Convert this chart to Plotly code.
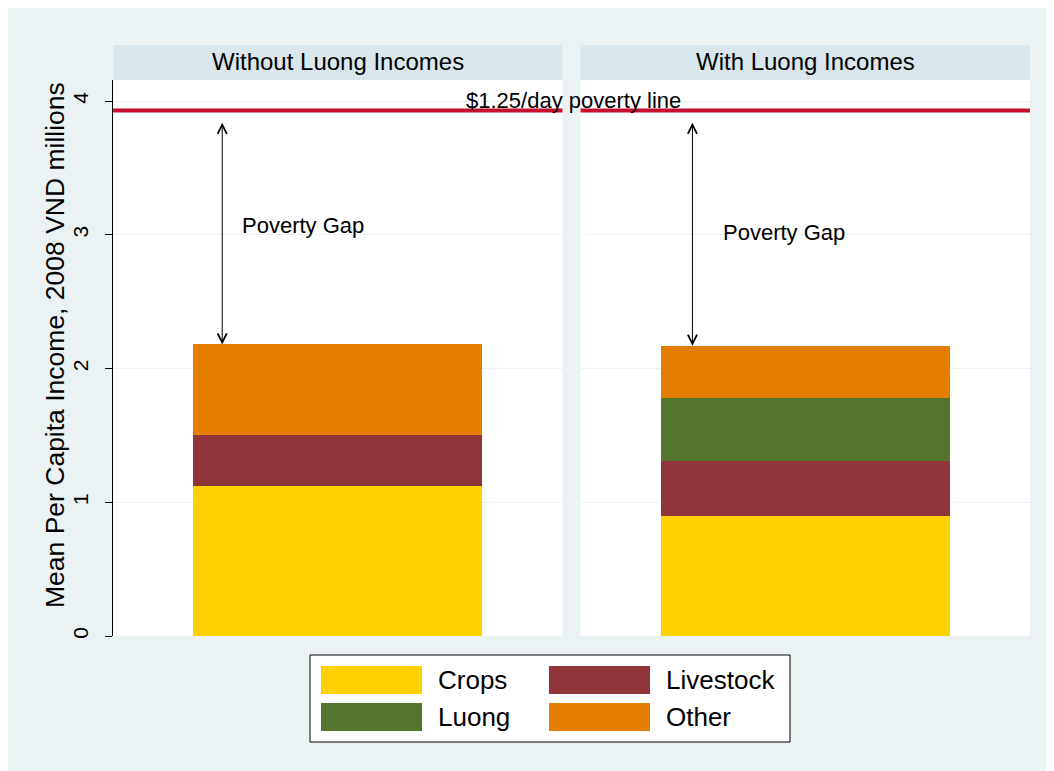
import plotly.graph_objects as go
from plotly.subplots import make_subplots

# ---- data ----
panels = ["Without Luong Incomes", "With Luong Incomes"]
series = ["Crops", "Livestock", "Luong", "Other"]
colors = ["#FFD100", "#90353B", "#55752F", "#E37E00"]
values = {
    "Crops":     [1.12, 0.90],
    "Livestock": [0.38, 0.41],
    "Luong":     [0.00, 0.47],
    "Other":     [0.68, 0.39],
}
poverty_line = 3.93
poverty_label = "$1.25/day poverty line"
gap_label = "Poverty Gap"
y_ticks = [0, 1, 2, 3, 4]
y_title = "Mean Per Capita Income, 2008 VND millions"

W, H = 1054, 771
OFF = 8  # page body margin
ML, MR, MT, MB = 113 - OFF, 32, 80 - OFF, 143
PW = W - ML - MR
PH = H - MT - MB

def px_x(p):
    return (p - OFF - ML) / PW

def px_y(p):
    return (H - MB - (p - OFF)) / PH

FONT = "Arial, Liberation Sans, Helvetica, sans-serif"
BG = "#EAF2F3"
HEAD = "#D9E6EC"

fig = make_subplots(rows=1, cols=2, shared_yaxes=True, horizontal_spacing=18 / PW)

for ci in range(2):
    for s, c in zip(series, colors):
        fig.add_trace(go.Bar(x=[0.5], y=[values[s][ci]], width=0.644, name=s,
                             marker=dict(color=c, line=dict(width=0)),
                             showlegend=False, hoverinfo="y"), row=1, col=ci + 1)

fig.update_layout(barmode="stack", width=W, height=H,
                  margin=dict(l=ML, r=MR, t=MT, b=MB),
                  paper_bgcolor=BG, plot_bgcolor="white",
                  font=dict(family=FONT, color="black"), showlegend=False)

ymax = 4.158
fig.update_yaxes(range=[0, ymax], tickvals=y_ticks, ticktext=[str(t) for t in y_ticks],
                 showgrid=True, gridcolor=BG, gridwidth=1, zeroline=False,
                 fixedrange=True)
fig.update_yaxes(row=1, col=1, showline=True, linecolor="black", linewidth=1,
                 ticks="outside", ticklen=7, tickcolor="black", tickangle=-90,
                 ticklabelstandoff=9,
                 tickfont=dict(size=21, family=FONT))
fig.update_yaxes(row=1, col=2, showline=False, ticks="", showticklabels=False)
fig.update_xaxes(range=[0, 1], showticklabels=False, showgrid=False, zeroline=False,
                 showline=False, ticks="", fixedrange=True)

shapes = []
annotations = []
xrefs = ["x", "x2"]
arrow_x = [0.243, 0.249]
gap_x = [0.283, 0.313]
gap_y = [3.07, 3.02]
for ci in range(2):
    xr = xrefs[ci]
    total = sum(values[s][ci] for s in series)
    # header strip
    shapes.append(dict(type="rect", xref=xr + " domain", yref="paper", x0=0, x1=1,
                       y0=1, y1=1 + 35 / PH, fillcolor=HEAD, line=dict(width=0), layer="below"))
    annotations.append(dict(text=panels[ci], xref=xr + " domain", yref="paper",
                            x=0.5, y=1 + 18 / PH, showarrow=False, xanchor="center",
                            yanchor="middle", font=dict(size=24, family=FONT)))
    # poverty line
    shapes.append(dict(type="line", xref=xr + " domain", yref="y", x0=0, x1=1,
                       y0=poverty_line, y1=poverty_line,
                       line=dict(color="#C8102E", width=4)))
    # poverty gap arrow
    annotations.append(dict(x=arrow_x[ci], y=total, ax=arrow_x[ci], ay=poverty_line - 0.08,
                            xref=xr, yref="y", axref=xr, ayref="y", text="",
                            showarrow=True, arrowhead=5, startarrowhead=5,
                            arrowside="end+start", arrowsize=1.8, startarrowsize=1.8,
                            arrowwidth=1, arrowcolor="black"))
    annotations.append(dict(text=gap_label, x=gap_x[ci], y=gap_y[ci], xref=xr, yref="y",
                            showarrow=False, xanchor="left", yanchor="middle",
                            font=dict(size=22, family=FONT)))

annotations.append(dict(text=poverty_label, x=px_x(573), y=poverty_line, xref="paper", yref="y",
                        showarrow=False, xanchor="center", yanchor="bottom", yshift=-5,
                        font=dict(size=22, family=FONT)))

# y-axis title
annotations.append(dict(text=y_title, x=px_x(55), y=px_y(345), xref="paper", yref="paper",
                        textangle=-90, showarrow=False, xanchor="center", yanchor="middle",
                        font=dict(size=26.5, family=FONT)))

# custom legend
shapes.append(dict(type="rect", xref="paper", yref="paper",
                   x0=px_x(310), x1=px_x(790), y0=px_y(742), y1=px_y(655),
                   fillcolor="white", line=dict(color="black", width=1)))
leg_pos = {"Crops": (321, 666), "Livestock": (549, 666), "Luong": (321, 703), "Other": (549, 703)}
for s, c in zip(series, colors):
    lx, ly = leg_pos[s]
    shapes.append(dict(type="rect", xref="paper", yref="paper",
                       x0=px_x(lx), x1=px_x(lx + 101), y0=px_y(ly + 28), y1=px_y(ly),
                       fillcolor=c, line=dict(width=0)))
    annotations.append(dict(text=s, xref="paper", yref="paper", x=px_x(lx + 115),
                            y=px_y(ly + 14), showarrow=False, xanchor="left",
                            yanchor="middle", font=dict(size=26, family=FONT)))

fig.update_layout(shapes=shapes, annotations=annotations)
fig.write_html("out.html")
